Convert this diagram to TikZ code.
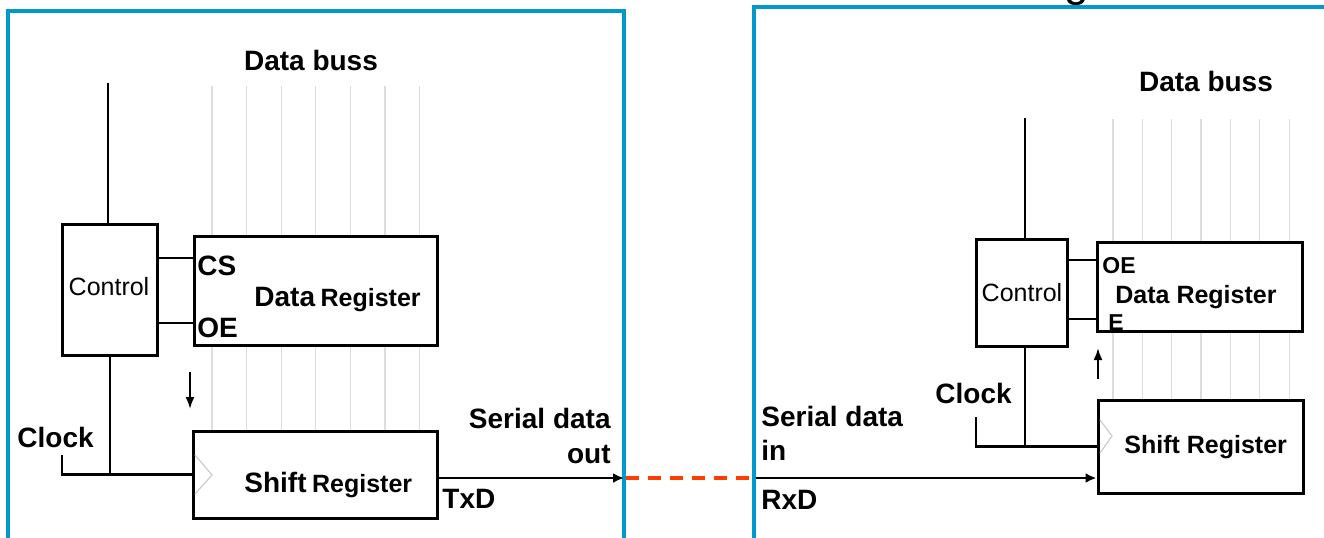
\documentclass[tikz,border=0pt]{standalone}
\usepackage{fontspec}
\setmainfont{Liberation Sans}
\usetikzlibrary{arrows.meta}
\definecolor{frameblue}{HTML}{0099CC}
\definecolor{linkred}{HTML}{FF3D00}
\definecolor{gridgray}{HTML}{DDDDDD}
\definecolor{tickgray}{HTML}{CCCCCC}

\begin{document}
\begin{tikzpicture}[x=0.5pt,y=-0.5pt,
  blk/.style={draw,line width=1.5pt,inner sep=0,fill=white},
  wire/.style={line width=1.2pt},
  thinwire/.style={line width=1pt},
  frame/.style={draw=frameblue,line width=1.6pt},
  busline/.style={gridgray,line width=0.6pt},
  clktick/.style={tickgray,line width=0.6pt},
  sig/.style={line width=1.2pt,-{Latex[length=5.5pt,width=5pt]}},
  flow/.style={line width=1pt,-{Latex[length=6pt,width=4.5pt]}},
  lbl/.style={inner sep=0,font=\bfseries\fontsize{14}{16}\selectfont},
  slbl/.style={inner sep=0,font=\bfseries\fontsize{12.5}{15}\selectfont},
  tlbl/.style={inner sep=0,font=\bfseries\fontsize{11.5}{14}\selectfont},
  clbl/.style={inner sep=0,font=\fontsize{12.5}{15}\selectfont}
]
\useasboundingbox (0,0) rectangle (1324,537);

% title fragment running off the top edge
\node[inner sep=0,anchor=base west,font=\fontsize{22}{26}\selectfont] (ttl) at (1064,-4) {g};

% ---------------- transmitter ----------------
\draw[frame] (8,545) -- (8,11) -- (624,11) -- (624,545);

% parallel data bus lines
\foreach \i in {0,...,6} {
  \draw[busline] (212+34.6*\i,86) -- (212+34.6*\i,236);
  \draw[busline] (212+34.6*\i,345) -- (212+34.6*\i,431);
}

\node[blk,minimum width=47.5pt,minimum height=65.5pt] (ctlL) at (109.5,289.5) {};
\node[clbl,anchor=base] at (109,295) {Control};
\node[blk,minimum width=121.5pt,minimum height=54.5pt] (drL) at (315.5,290.5) {};
\node[blk,minimum width=122pt,minimum height=43.5pt] (srL) at (315,474.5) {};

\draw[clktick] (195,455) -- (212,475) -- (195,494);

\node[lbl,anchor=base] (dbL) at (311,70) {Data buss};
\node[lbl,anchor=base west] (csL) at (197,275) {CS};
\node[lbl,anchor=base west] (oeL) at (197,337) {OE};
\node[inner sep=0,anchor=base west] (drtL) at (254,306)
  {\bfseries{\fontsize{14}{16}\selectfont Data} {\fontsize{12.5}{15}\selectfont Register}};
\node[inner sep=0,anchor=base west] (srtL) at (244,492)
  {\bfseries{\fontsize{14}{16}\selectfont Shift} {\fontsize{12.5}{15}\selectfont Register}};
\node[lbl,anchor=base west] (clkLt) at (17,447) {Clock};
\node[lbl,anchor=base east] (sdo1) at (611,428) {Serial data};
\node[lbl,anchor=base east] (sdo2) at (611,463) {out};
\node[lbl,anchor=base west] (txd) at (442,508) {TxD};

\coordinate (busL) at (108,83);
\coordinate (csY) at (0,258);
\coordinate (oeY) at (0,323);
\coordinate (clkL) at (62,455);
\coordinate (dnA) at (190,372);
\coordinate (dnB) at (190,409);
\coordinate (tx) at (624,478);

\draw[thinwire] (busL) -- (busL |- ctlL.north);
\draw[wire] (ctlL.east |- csY) -- (drL.west |- csY);
\draw[wire] (ctlL.east |- oeY) -- (drL.west |- oeY);
\draw[thinwire] (ctlL.south) -- (ctlL.south |- srL.west);
\draw[wire] (clkL) |- (srL.west);
\draw[flow] (dnA) -- (dnB);
\draw[sig] (srL.east |- tx) -- (tx);

% ---------------- receiver ----------------
\draw[frame] (754,545) -- (754,7) -- (1335,7);

\foreach \i in {0,...,6} {
  \draw[busline] (1113+29.35*\i,119) -- (1113+29.35*\i,242);
  \draw[busline] (1113+29.35*\i,331) -- (1113+29.35*\i,400);
}

\node[blk,minimum width=45.5pt,minimum height=53.5pt] (ctlR) at (1021.5,292.5) {};
\node[clbl,anchor=base] at (1022,301) {Control};
\node[blk,minimum width=102.5pt,minimum height=44.5pt] (drR) at (1199.5,286.5) {};
\node[blk,minimum width=102.5pt,minimum height=46.5pt] (srR) at (1200.5,446.5) {};

\draw[clktick] (1100,420) -- (1112,436) -- (1100,453);

\node[lbl,anchor=base] (dbR) at (1206,91) {Data buss};
\node[tlbl,anchor=base west] (oeR) at (1102,273) {OE};
\node[slbl,anchor=base west] (drtR) at (1115,303) {Data Register};
\node[tlbl,anchor=base west] (eR) at (1108,330) {E};
\node[slbl,anchor=base west] (srtR) at (1124,453) {Shift Register};
\node[lbl,anchor=base west] (clkRt) at (935,403) {Clock};
\node[lbl,anchor=base west] (sdi1) at (761,426) {Serial data};
\node[lbl,anchor=base west] (sdi2) at (761,460) {in};
\node[lbl,anchor=base west] (rxd) at (761,509) {RxD};

\coordinate (busR) at (1025,118);
\coordinate (oeRY) at (0,260);
\coordinate (eRY) at (0,319);
\coordinate (clkR) at (976,417);
\coordinate (upA) at (1098,379);
\coordinate (upB) at (1098,348);
\coordinate (rx) at (756,478);

\draw[thinwire] (busR) -- (busR |- ctlR.north);
\draw[wire] (ctlR.east |- oeRY) -- (drR.west |- oeRY);
\draw[wire] (ctlR.east |- eRY) -- (drR.west |- eRY);
\draw[thinwire] (ctlR.south -| busR) -- (busR |- srR.west);
\draw[wire] (clkR) |- (srR.west);
\draw[flow] (upA) -- (upB);
\draw[sig] (rx) -- (srR.west |- rx);

% serial link between the two units
\draw[linkred,line width=1.6pt,dash pattern=on 6.5pt off 4.5pt,dash phase=-1pt] (tx) -- (rx);
\end{tikzpicture}
\end{document}
